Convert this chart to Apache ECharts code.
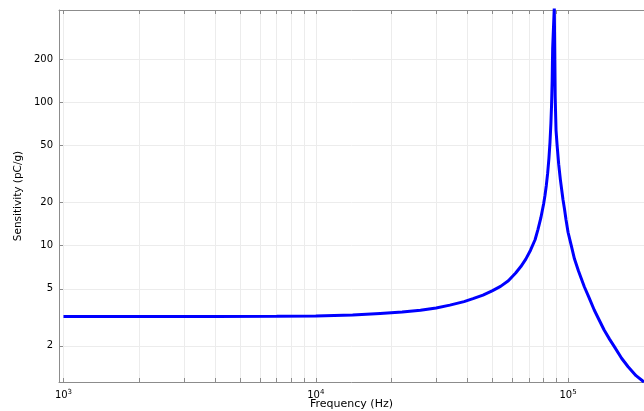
<!DOCTYPE html>
<html>
<head>
<meta charset="utf-8">
<script src="https://cdn.jsdelivr.net/npm/echarts@6/dist/echarts.min.js"></script>
<style>
  html, body { margin: 0; padding: 0; background: #fff; }
  #chart { width: 644px; height: 411px; }
</style>
</head>
<body>
<div id="chart"></div>
<script>
// frequency (Hz) / sensitivity (pC/g)
var freq = [1000, 2000, 4000, 7000, 10000, 14000, 18000, 22000, 26000, 30000,
  34000, 38700, 42000, 46000, 50000, 54000, 58000, 62000, 65000, 68000,
  71000, 74000, 76000, 78000, 80000, 81000, 82000, 83000, 84000, 84800,
  85500, 86000, 86500, 86900, 88200, 88900, 89600, 90500, 91800, 93200,
  95500, 96800, 98200, 100000, 103000, 106000, 110000, 116000, 121000, 127000,
  133000, 139000, 146000, 153000, 163000, 173000, 186000, 200000];
var sens = [3.20, 3.20, 3.21, 3.22, 3.23, 3.28, 3.37, 3.44, 3.54, 3.68,
  3.85, 4.07, 4.27, 4.52, 4.84, 5.2, 5.7, 6.45, 7.15, 8.05,
  9.3, 11.0, 13.0, 15.6, 19.5, 22.4, 26.3, 31.9, 40.8, 52.6,
  70.8, 94, 141, 239, 460, 110, 64, 50, 37, 29,
  20.9, 18, 15.1, 12.4, 10.0, 8.1, 6.65, 5.17, 4.36, 3.56,
  3.02, 2.58, 2.23, 1.96, 1.64, 1.43, 1.24, 1.12];

// axis ticks / labels
var xTicks = [1000, 2000, 3000, 4000, 5000, 6000, 7000, 8000, 9000,
  10000, 20000, 30000, 40000, 50000, 60000, 70000, 80000, 90000, 100000, 200000];
var xLabels = [1000, 10000, 100000];
var yTicks = [2, 5, 10, 20, 50, 100, 200];
var xRange = [960, 200000];
var yRange = [1.12, 440];

// both axes are logarithmic: plot log10 of the values on value axes
var lg = Math.log10;
var seriesData = freq.map(function (f, i) { return [lg(f), lg(sens[i])]; });

var font = 'DejaVu Sans';
var axisGray = '#8c8c8c';
var gridGray = '#ececec';

var chart = echarts.init(document.getElementById('chart'));
chart.setOption({
  animation: false,
  grid: { left: 59, right: 0, top: 10, bottom: 29, outerBoundsMode: 'none' },
  xAxis: [
    {
      type: 'value',
      position: 'bottom',
      min: lg(xRange[0]),
      max: lg(xRange[1]),
      name: 'Frequency (Hz)',
      nameLocation: 'middle',
      nameGap: 17,
      nameMoveOverlap: false,
      nameTextStyle: { fontFamily: font, fontSize: 11, color: '#000' },
      axisLine: { lineStyle: { color: axisGray, width: 1 } },
      axisTick: { inside: true, length: 4, customValues: xTicks.map(lg), lineStyle: { color: axisGray } },
      axisLabel: {
        customValues: xLabels.map(lg),
        margin: 7,
        formatter: function (v) { return '{b|10}{s|' + Math.round(v) + '}'; },
        rich: {
          b: { fontFamily: font, fontSize: 10, color: '#000' },
          s: { fontFamily: font, fontSize: 7, color: '#000', verticalAlign: 'top', padding: [0, 0, 5, 0] }
        }
      },
      splitLine: { show: true, lineStyle: { color: gridGray, width: 1 } }
    },
    {
      type: 'value',
      position: 'top',
      min: lg(xRange[0]),
      max: lg(xRange[1]),
      axisLine: { lineStyle: { color: axisGray, width: 1 } },
      axisTick: { inside: true, length: 4, customValues: xTicks.map(lg), lineStyle: { color: axisGray } },
      axisLabel: { show: false },
      splitLine: { show: false }
    }
  ],
  yAxis: {
    type: 'value',
    min: lg(yRange[0]),
    max: lg(yRange[1]),
    name: 'Sensitivity (pC/g)',
    nameLocation: 'middle',
    nameGap: 35,
    nameMoveOverlap: false,
    nameTextStyle: { fontFamily: font, fontSize: 10.5, color: '#000' },
    axisLine: { show: true, lineStyle: { color: axisGray, width: 1 } },
    axisTick: { show: true, inside: true, length: 4, customValues: yTicks.map(lg), lineStyle: { color: axisGray } },
    axisLabel: {
      customValues: yTicks.map(lg),
      margin: 6,
      fontFamily: font,
      fontSize: 10,
      color: '#000',
      formatter: function (v) { return String(Math.round(Math.pow(10, v))); }
    },
    splitLine: { show: true, lineStyle: { color: gridGray, width: 1 } }
  },
  series: [{
    type: 'line',
    data: seriesData,
    showSymbol: false,
    clip: true,
    lineStyle: { color: '#0000ff', width: 3 }
  }]
});
</script>
</body>
</html>
